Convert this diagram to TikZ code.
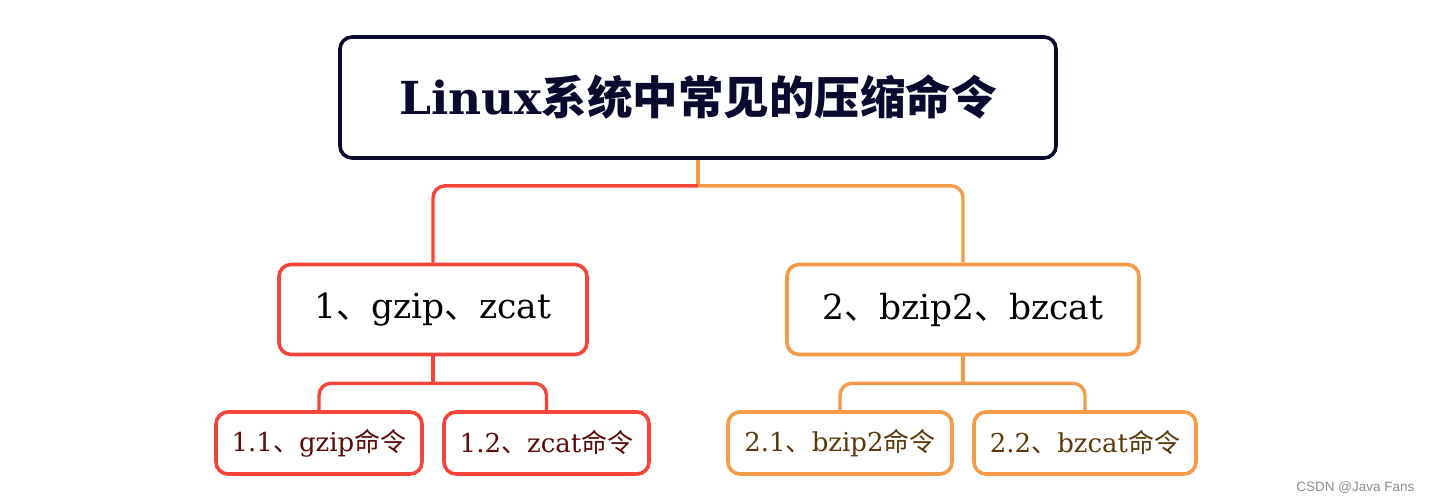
\documentclass[tikz,border=0pt]{standalone}
\usepackage{fontspec}
\setmainfont{DejaVu Serif}
\newfontfamily\cjk{Noto Sans CJK SC}
\newfontfamily\wmfont{Liberation Sans}
\usepackage{xcolor}
\usetikzlibrary{calc,positioning}

\definecolor{navy}{HTML}{0A0A2E}
\definecolor{redline}{HTML}{F5443A}
\definecolor{orangeline}{HTML}{F59B47}
\definecolor{redtext}{HTML}{5C0A0A}
\definecolor{browntext}{HTML}{5C380A}

\tikzset{
    box/.style={draw, rounded corners=12pt, line width=3.6pt, fill=white,
        inner sep=0pt, align=center},
    rootbox/.style={box, draw=navy, text=navy, minimum width=716pt, minimum height=121pt,
        font=\fontsize{45.5}{50}\selectfont\bfseries},
    topicbox/.style={box, minimum height=90pt, font=\fontsize{34.5}{40}\selectfont},
    subbox/.style={box, minimum height=62pt, font=\fontsize{26}{30}\selectfont},
    link/.style={line width=3.4pt, rounded corners=12pt},
}

\begin{document}
\begin{tikzpicture}[x=1pt, y=-1pt]
    \useasboundingbox (0,0) rectangle (1433,503);

    % root
    \node[rootbox] (root) at (698,97.5) {Linux{\cjk 系统中常见的压缩命令}};

    % level 1
    \node[topicbox, draw=redline, minimum width=308pt] (gz) at (433,309.5) {1{\cjk 、}gzip{\cjk 、}zcat};
    \node[topicbox, draw=orangeline, minimum width=352pt] (bz) at (963,309.5) {2{\cjk 、}bzip2{\cjk 、}bzcat};

    % level 2
    \node[subbox, draw=redline, text=redtext, minimum width=206pt] (gzip) at (319,443) {1.1{\cjk 、}gzip{\cjk 命令}};
    \node[subbox, draw=redline, text=redtext, minimum width=205pt] (zcat) at (546.5,443) {1.2{\cjk 、}zcat{\cjk 命令}};
    \node[subbox, draw=orangeline, text=browntext, minimum width=224pt] (bzip) at (840,443) {2.1{\cjk 、}bzip2{\cjk 命令}};
    \node[subbox, draw=orangeline, text=browntext, minimum width=222pt] (bzcat) at (1085,443) {2.2{\cjk 、}bzcat{\cjk 命令}};

    % junctions
    \coordinate (j0) at ($(root.south)+(0,26)$);
    \coordinate (j1) at ($(gz.south)+(0,27)$);
    \coordinate (j2) at ($(bz.south)+(0,27)$);

    % connectors
    \draw[link, orangeline] (root.south) -- (j0);
    \draw[link, redline] (j0) -| (gz.north);
    \draw[link, orangeline] (j0) -| (bz.north);
    \draw[link, redline] (gz.south) -- (j1);
    \draw[link, redline] (j1) -| (gzip.north);
    \draw[link, redline] (j1) -| (zcat.north);
    \draw[link, orangeline] (bz.south) -- (j2);
    \draw[link, orangeline] (j2) -| (bzip.north);
    \draw[link, orangeline] (j2) -| (bzcat.north);

    % watermark
    \node[font=\wmfont\fontsize{13.5}{15}\selectfont, text=black!45, anchor=east] (mark) at (1418,488) {CSDN @Java Fans};
\end{tikzpicture}
\end{document}
